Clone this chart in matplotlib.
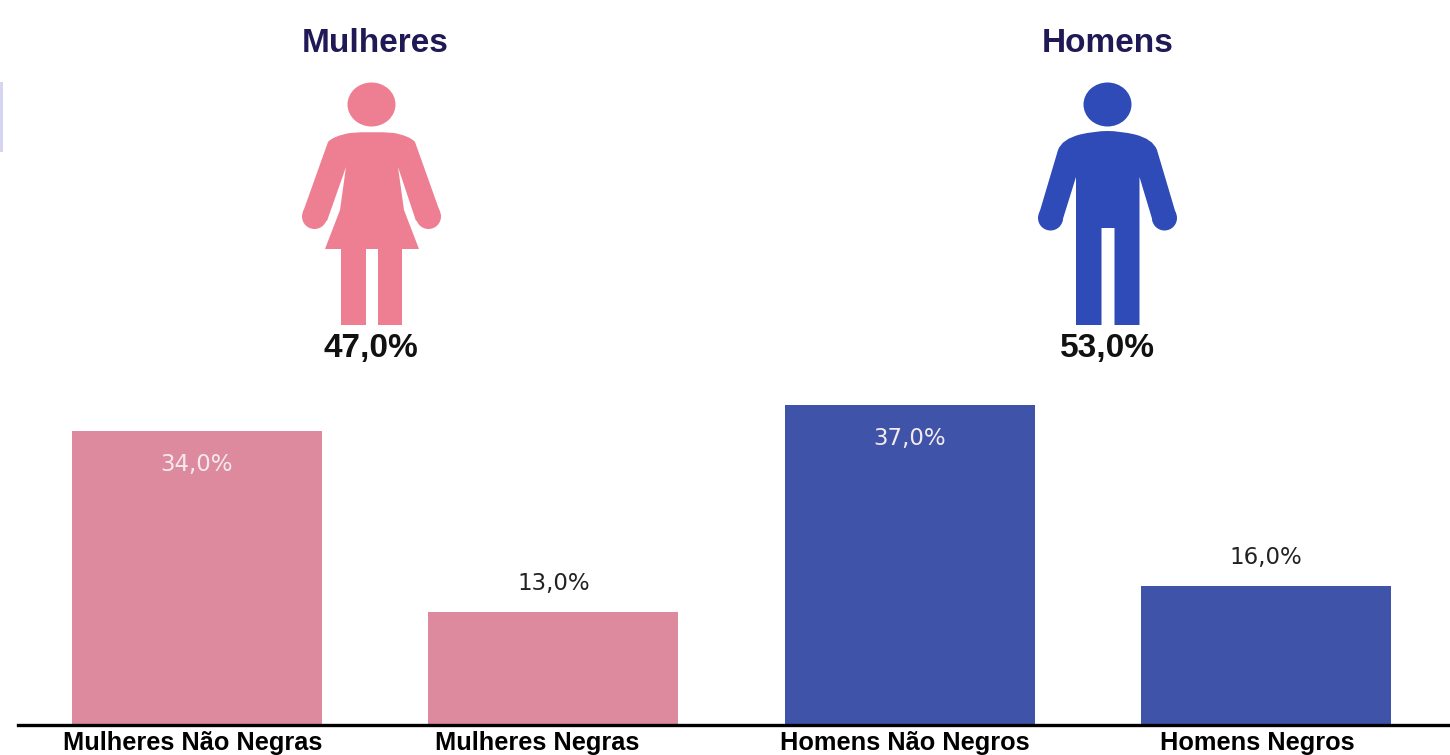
import matplotlib
matplotlib.use("Agg")
import matplotlib.pyplot as plt
from matplotlib.patches import Ellipse, Circle, PathPatch, Rectangle
from matplotlib.path import Path

plt.rcParams['font.family'] = ['Liberation Sans', 'DejaVu Sans']

# Data
categories = ["Mulheres Não Negras", "Mulheres Negras", "Homens Não Negros", "Homens Negros"]
values = [34.0, 13.0, 37.0, 16.0]
value_labels = ["34,0%", "13,0%", "37,0%", "16,0%"]
label_inside = [True, False, True, False]
group_names = ["Mulheres", "Homens"]
group_labels = ["47,0%", "53,0%"]

# Style
PINK_BAR = "#DD8A9F"
BLUE_BAR = "#3F53A8"
PINK_ICON = "#EE7F93"
BLUE_ICON = "#2E4BB8"
TITLE = "#1F1A55"
bar_colors = [PINK_BAR, PINK_BAR, BLUE_BAR, BLUE_BAR]
W, H = 1450, 755

fig = plt.figure(figsize=(W / 100, H / 100), dpi=100, facecolor="white")

# Bar chart axes: x=0 centred at px 197, spacing 356.4 px; baseline at px y=725, 8.66 px per %
top_px = 395
ax = fig.add_axes([18 / W, (H - 725) / H, (W - 18) / W, (725 - top_px) / H])
ax.set_xlim((18 - 197) / 356.4, (W - 197) / 356.4)
ax.set_ylim(0, (725 - top_px) / 8.66)
ax.patch.set_alpha(0)
xs = list(range(len(values)))
bars = ax.bar(xs, values, width=250 / 356.4, color=bar_colors, linewidth=0)
for s in ("top", "left", "right"):
    ax.spines[s].set_visible(False)
ax.spines["bottom"].set_linewidth(2.4)
ax.spines["bottom"].set_color("black")
ax.set_yticks([])
# label centres sit slightly left of the bar centres in the reference
label_shift = [-4 / 356.4, -16 / 356.4, -5 / 356.4, -9 / 356.4]
ax.set_xticks([x + d for x, d in zip(xs, label_shift)])
ax.set_xticklabels(categories, fontsize=18.3, fontweight="bold", color="black")
ax.tick_params(axis="x", length=0, pad=4.2)

for x, v, t, inside in zip(xs, values, value_labels, label_inside):
    dy = -34 if inside else 29
    ax.annotate(t, (x, v), xytext=(0, dy * 0.72), textcoords="offset points",
                ha="center", va="center", fontsize=16.5,
                family="DejaVu Sans", color="#F4EAEE" if inside else "#222222")

# Overlay in pixel coordinates for pictograms and titles
ov = fig.add_axes([0, 0, 1, 1], zorder=5)
ov.set_xlim(0, W)
ov.set_ylim(H, 0)
ov.axis("off")

ov.add_patch(Rectangle((0, 82), 3, 70, color="#D5D5F2", linewidth=0))


def curved(points):
    verts, codes = [], []
    for i, (p, c) in enumerate(points):
        verts.append(p)
        codes.append(Path.MOVETO if i == 0 else c)
    verts.append(points[0][0])
    codes.append(Path.CLOSEPOLY)
    return Path(verts, codes)


L, Q = Path.LINETO, Path.CURVE3

# Woman
ov.add_patch(Ellipse((371.5, 104.5), 48, 44, color=PINK_ICON, lw=0))
ov.add_patch(PathPatch(curved([
    ((328, 142), L), ((333, 136), Q), ((350, 133), Q), ((372, 131), Q), ((394, 133), Q),
    ((410, 136), Q), ((415, 142), Q),
    ((440, 212), L), ((416, 221), L),
    ((398, 167), L), ((404, 210), L), ((419, 249), L),
    ((325, 249), L), ((340, 210), L), ((346, 167), L),
    ((327, 221), L), ((303, 212), L),
]), color=PINK_ICON, lw=0))
ov.add_patch(Circle((314.5, 216.5), 12.5, color=PINK_ICON, lw=0))
ov.add_patch(Circle((428.5, 216.5), 12.5, color=PINK_ICON, lw=0))
ov.add_patch(Rectangle((341.5, 248), 25, 77, color=PINK_ICON, lw=0))
ov.add_patch(Rectangle((378, 248), 24.5, 77, color=PINK_ICON, lw=0))

# Man
ov.add_patch(Ellipse((1107.5, 104.5), 48, 44, color=BLUE_ICON, lw=0))
ov.add_patch(PathPatch(curved([
    ((1058, 150), L), ((1062, 139), Q), ((1080, 134.5), Q), ((1095, 131), Q), ((1107.5, 131), Q),
    ((1120, 131), Q), ((1135, 134.5), Q), ((1153, 139), Q), ((1157, 150), Q),
    ((1176, 214), L), ((1153, 222), L),
    ((1139.5, 177), L), ((1139.5, 325), L), ((1114.5, 325), L), ((1114.5, 228), L),
    ((1101.5, 228), L), ((1101.5, 325), L), ((1076, 325), L), ((1076, 177), L),
    ((1062, 222), L), ((1039, 214), L),
]), color=BLUE_ICON, lw=0))
ov.add_patch(Circle((1050.5, 218), 12.5, color=BLUE_ICON, lw=0))
ov.add_patch(Circle((1164.5, 218), 12.5, color=BLUE_ICON, lw=0))

# Group titles and totals
for cx, name in zip([375, 1107.5], group_names):
    ov.text(cx, 44, name, ha="center", va="center", fontsize=24, fontweight="bold", color=TITLE)
for cx, t in zip([371, 1107], group_labels):
    ov.text(cx, 348, t, ha="center", va="center", fontsize=24, fontweight="bold", color="#111111")

fig.savefig("out.png", dpi=100, facecolor="white")
